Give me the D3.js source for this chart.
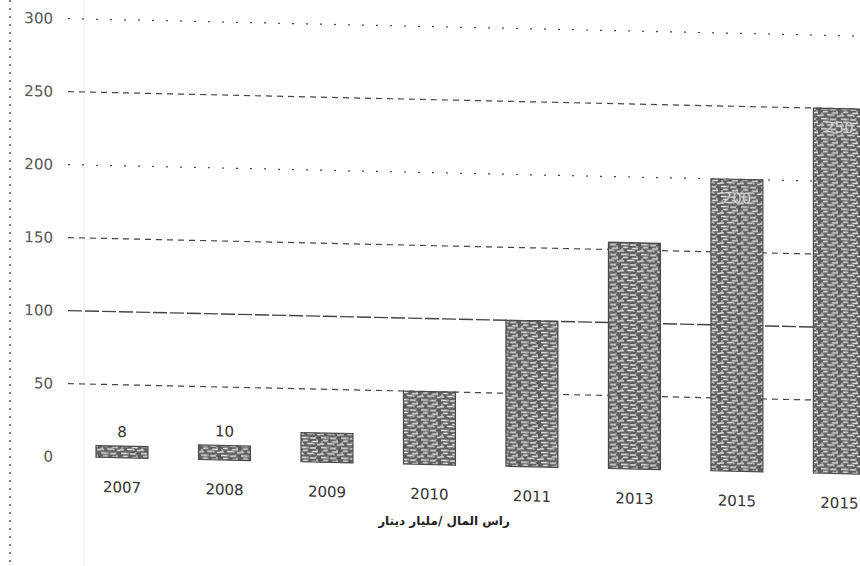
<!DOCTYPE html>
<html>
<head>
<meta charset="utf-8">
<script src="https://cdn.jsdelivr.net/npm/d3@7/dist/d3.min.js"></script>
<style>
  html, body { margin: 0; padding: 0; background: #fff; }
  svg { display: block; }
</style>
</head>
<body>
<svg id="chart" width="860" height="566"></svg>
<script>
// ---- data ----
const years = ["2007", "2008", "2009", "2010", "2011", "2013", "2015", "2015"];
const capital = [8, 10, 20, 50, 100, 155, 200, 250];
const valueLabels = ["8", "10", "", "", "", "", "200", "250"];
const yTicks = [0, 50, 100, 150, 200, 250, 300];
const gridTicks = [50, 100, 150, 200, 250, 300];
const axisTitle = "راس المال /مليار دينار";

// ---- setup ----
const W = 860, H = 566;
const svg = d3.select("#chart");
const defs = svg.append("defs");

// scanned-looking texture for bars
const pat = defs.append("pattern")
  .attr("id", "tex").attr("width", 20).attr("height", 10)
  .attr("patternUnits", "userSpaceOnUse");
pat.append("rect").attr("width", 20).attr("height", 10).attr("fill", "#5c5c5c");
pat.append("path")
  .attr("d", "M1,1.5h6 M10,2h6 M3,4.5h5 M12,5.5h6 M0,8h4 M7,7.5h6 M17,8.5h3")
  .attr("stroke", "#e6e6e6").attr("stroke-width", 1.4).attr("fill", "none");
pat.append("path")
  .attr("d", "M8,0.5v2 M17,3v2.5 M2,5v2.5 M14,7v2")
  .attr("stroke", "#d2d2d2").attr("stroke-width", 1.1).attr("fill", "none");
pat.append("path")
  .attr("d", "M5,3h2 M15,0.5h2 M9,9h2")
  .attr("stroke", "#999").attr("stroke-width", 1).attr("fill", "none");

// left dotted border and faint scan line
svg.append("line").attr("x1", 10).attr("x2", 10).attr("y1", 0).attr("y2", H)
  .attr("stroke", "#555").attr("stroke-width", 1.5).attr("stroke-dasharray", "2,6");
svg.append("line").attr("x1", 84).attr("x2", 84).attr("y1", 0).attr("y2", H)
  .attr("stroke", "#ececec").attr("stroke-width", 1);

// slight scan tilt
const k = 0.022;
const g = svg.append("g")
  .attr("transform", `translate(0,${-k * 40}) skewY(${Math.atan(k) * 180 / Math.PI})`);

const x = d3.scaleBand()
  .domain(d3.range(years.length))
  .range([70.4, 891])
  .paddingInner(0.493)
  .paddingOuter(0.25);

const y = d3.scaleLinear().domain([0, 300]).range([456, 18]);

// gridlines
g.append("g").selectAll("line").data(gridTicks).join("line")
  .attr("x1", 68).attr("x2", W)
  .attr("y1", d => y(d)).attr("y2", d => y(d))
  .attr("stroke", "#444")
  .attr("stroke-width", d => d === 100 ? 1.4 : 1.2)
  .attr("stroke-dasharray", d => d === 100 ? "14,3" : (d === 300 || d === 200 ? "2,12" : "6,5"));

// y axis labels
const yAxis = g.append("g").attr("transform", "translate(53,0)")
  .call(d3.axisLeft(y).tickValues(yTicks).tickSize(0).tickPadding(0));
yAxis.select(".domain").remove();
yAxis.selectAll("text")
  .attr("font-family", "DejaVu Sans, sans-serif")
  .attr("font-size", 15).attr("fill", "#555");

// bars
g.append("g").selectAll("rect").data(capital).join("rect")
  .attr("x", (d, i) => x(i))
  .attr("width", x.bandwidth())
  .attr("y", d => y(d))
  .attr("height", d => y(0) - y(d))
  .attr("fill", "url(#tex)")
  .attr("stroke", "#4a4a4a").attr("stroke-width", 1.2);

// value labels
g.append("g").selectAll("text").data(capital).join("text")
  .attr("x", (d, i) => x(i) + x.bandwidth() / 2)
  .attr("y", (d, i) => d >= 150 ? y(d) + 24 : y(d) - 9)
  .attr("text-anchor", "middle")
  .attr("font-family", "DejaVu Sans, sans-serif")
  .attr("font-size", 15)
  .attr("fill", d => d >= 150 ? "#d0d0d0" : "#333")
  .text((d, i) => valueLabels[i]);

// x axis labels
const xAxis = g.append("g").attr("transform", `translate(0,${y(0)})`)
  .call(d3.axisBottom(x).tickFormat(i => years[i]).tickSize(0).tickPadding(24));
xAxis.select(".domain").remove();
xAxis.selectAll("text")
  .attr("font-family", "DejaVu Sans, sans-serif")
  .attr("font-size", 15).attr("fill", "#333");

// axis title
svg.append("text")
  .attr("x", 444).attr("y", 525)
  .attr("text-anchor", "middle")
  .attr("direction", "rtl")
  .attr("font-family", "DejaVu Sans, sans-serif")
  .attr("font-size", 12).attr("font-weight", "bold")
  .attr("fill", "#222")
  .text(axisTitle);
</script>
</body>
</html>
